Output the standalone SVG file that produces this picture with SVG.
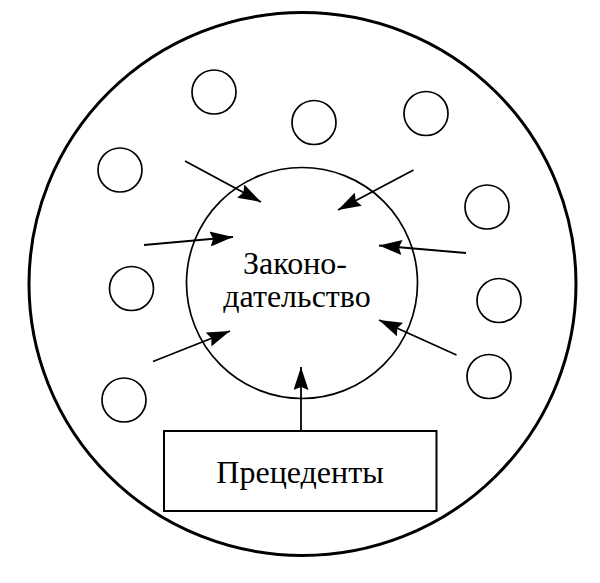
<svg xmlns="http://www.w3.org/2000/svg" width="600" height="583" viewBox="0 0 600 583">
<style>
.c{fill:none;stroke:#000;stroke-width:1.7}
.t{font-family:"Liberation Serif","Times New Roman",serif;font-size:32px;fill:#000;text-anchor:middle}
.a{stroke:#000;stroke-width:1.8;fill:none;marker-end:url(#ah)}
</style>
<defs>
<marker id="ah" markerUnits="userSpaceOnUse" viewBox="0 0 23 15" markerWidth="23" markerHeight="15" refX="23" refY="7.5" orient="auto">
<path d="M0,0 L23,7.5 L0,15 L3,7.5 Z" fill="#000"/>
</marker>
</defs>
<rect width="600" height="583" fill="#fff"/>
<g id="outer"><ellipse cx="302.5" cy="284" rx="273.5" ry="271.5" fill="none" stroke="#000" stroke-width="3"/></g>
<g id="law"><circle class="c" cx="302" cy="283" r="115.5"/>
<text class="t"><tspan x="295" y="274">Законо-</tspan><tspan x="297" y="307">дательство</tspan></text></g>
<g id="small">
<ellipse class="c" cx="214" cy="92" rx="22" ry="22"/>
<ellipse class="c" cx="314" cy="122.5" rx="22" ry="22"/>
<ellipse class="c" cx="426" cy="113.5" rx="22" ry="22"/>
<ellipse class="c" cx="120" cy="170" rx="22" ry="22"/>
<ellipse class="c" cx="487" cy="207" rx="22" ry="22"/>
<ellipse class="c" cx="131.5" cy="288.5" rx="22" ry="22"/>
<ellipse class="c" cx="499" cy="300.5" rx="22" ry="22"/>
<ellipse class="c" cx="124" cy="400" rx="22" ry="22"/>
<ellipse class="c" cx="489" cy="376.5" rx="22" ry="22"/>
</g>
<g id="precedents"><rect x="164" y="431" width="272.5" height="80" fill="none" stroke="#000" stroke-width="2"/>
<text class="t" x="300" y="483">Прецеденты</text></g>
<g id="connectors">
<line class="a" x1="185" y1="161" x2="261" y2="202"/>
<line class="a" x1="413.5" y1="170" x2="338" y2="210"/>
<line class="a" x1="144" y1="245" x2="233" y2="237"/>
<line class="a" x1="466" y1="253" x2="379" y2="245.5"/>
<line class="a" x1="153" y1="361.5" x2="230" y2="331"/>
<line class="a" x1="456.5" y1="355" x2="379" y2="320"/>
<line class="a" x1="301" y1="431" x2="301" y2="367"/>
</g>
</svg>
